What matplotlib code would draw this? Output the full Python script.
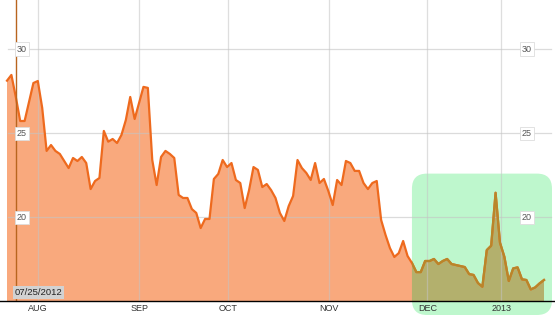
import matplotlib.pyplot as plt
from matplotlib.patches import FancyBboxPatch
import numpy as np

plt.rcParams['font.family'] = ['Liberation Sans', 'DejaVu Sans']

# daily closes, starting 07/23/2012
values = [28.13, 28.47, 27.16, 25.73, 25.73, 26.86, 27.99, 28.11, 26.51, 23.95,
          24.30, 23.95, 23.77, 23.35, 22.93, 23.53, 23.35, 23.59, 23.23, 21.68,
          22.16, 22.34, 25.14, 24.50, 24.66, 24.42, 24.90, 25.79, 27.16, 25.85,
          26.80, 27.76, 27.70, 23.41, 21.92, 23.59, 23.95, 23.77, 23.53, 21.33,
          21.15, 21.15, 20.49, 20.26, 19.36, 19.90, 19.90, 22.28, 22.58, 23.41,
          22.99, 23.23, 22.22, 22.04, 20.55, 21.62, 22.99, 22.82, 21.80, 21.98,
          21.62, 21.15, 20.26, 19.78, 20.67, 21.27, 23.41, 22.93, 22.64, 22.22,
          23.23, 22.04, 22.28, 21.57, 20.73, 22.22, 21.92, 23.35, 23.23, 22.76,
          22.76, 22.04, 21.68, 22.04, 22.16, 19.84, 18.95, 18.17, 17.64, 17.87,
          18.59, 17.70, 17.28, 16.74, 16.74, 17.40, 17.40, 17.52, 17.22, 17.40,
          17.52, 17.22, 17.16, 17.10, 17.04, 16.62, 16.57, 16.09, 15.87, 18.05,
          18.31, 21.46, 18.49, 17.65, 16.21, 16.96, 17.02, 16.31, 16.27, 15.71,
          15.83, 16.07, 16.27]

month_labels = ["AUG", "SEP", "OCT", "NOV", "DEC", "2013"]
month_pos = [7.05, 30.0, 50.2, 73.2, 95.5, 112.3]
y_levels = [20, 25, 30]
marker_idx = 2
marker_label = "07/25/2012"
highlight_start = 92.0
highlight_top = 22.6

x = np.arange(len(values))

fig = plt.figure(figsize=(5.55, 3.17), dpi=100)
ax = fig.add_axes([0, 16 / 317, 1, 301 / 317])
ax.set_xlim(-1.59, 124.5)
ax.set_ylim(15.02, 32.93)

# fill + line
ax.fill_between(x, values, 0, color="#f9a97d", lw=0, zorder=2)
ax.plot(x, values, color="#ee6a1e", lw=1.6, zorder=4)

# grid
for m in month_pos:
    ax.axvline(m, color="#c4c4c4", lw=0.9, alpha=0.55, zorder=3)
for lv in y_levels:
    ax.axhline(lv, xmin=8 / 555, xmax=551 / 555, color="#c4c4c4", lw=0.9, alpha=0.6, zorder=3)
    for xl in (22 / 555, 527 / 555):
        ax.text(xl, lv, str(lv), transform=ax.get_yaxis_transform(), ha="center", va="center",
                fontsize=6.5, color="#555555", zorder=6,
                bbox=dict(boxstyle="square,pad=0.25", fc="white", ec="#dddddd", lw=0.6))

# marker line for start date
ax.axvline(marker_idx, color="#b8651f", lw=1.0, zorder=5)
ax.annotate(marker_label, xy=(marker_idx, 15.02), xytext=(-1, 4), textcoords="offset pixels",
            ha="left", va="bottom", fontsize=6.8, color="#222222", zorder=7,
            bbox=dict(boxstyle="square,pad=0.2", fc="#d2d2d2", ec="none"))

# axes styling
for s in ["top", "left", "right"]:
    ax.spines[s].set_visible(False)
ax.spines["bottom"].set_color("black")
ax.spines["bottom"].set_linewidth(1.0)
ax.spines["bottom"].set_zorder(8)
ax.set_yticks([])
ax.set_xticks(month_pos)
ax.set_xticklabels(month_labels, fontsize=6.5, color="#333333")
ax.tick_params(axis="x", length=0, pad=2.5)

# green highlight box (multiply-look overlay)
fig.canvas.draw()
to_in = fig.dpi_scale_trans.inverted()
x0, y1 = to_in.transform(ax.transData.transform((highlight_start, highlight_top)))
x1 = 552 / 100
y0 = (317 - 315) / 100
box = FancyBboxPatch((x0, y0), x1 - x0, y1 - y0,
                     boxstyle="round,pad=0,rounding_size=0.15",
                     transform=fig.dpi_scale_trans, fc="#bbf7cb", ec="none",
                     alpha=0.95, zorder=1, clip_on=False)
ax.add_patch(box)
ov_fill = ax.fill_between(x, values, 0, color="#b3b06d", lw=0, zorder=2.5)
ov_fill.set_clip_path(box)
ov_line, = ax.plot(x, values, color="#b8862a", lw=1.6, zorder=4.5)
ov_line.set_clip_path(box)

fig.savefig("out.png", dpi=100)
